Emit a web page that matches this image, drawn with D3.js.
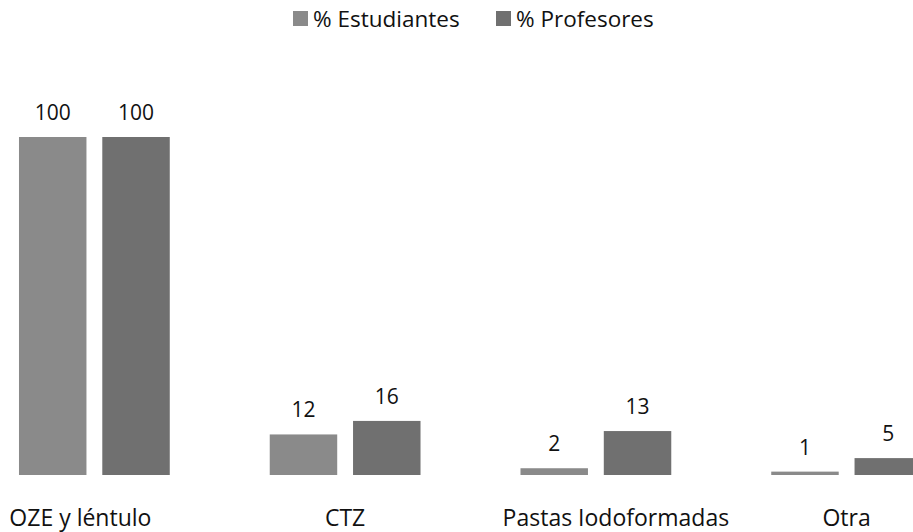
<!DOCTYPE html>
<html>
<head>
<meta charset="utf-8">
<script src="https://cdn.jsdelivr.net/npm/d3@7"></script>
<style>
  body { margin: 0; background: #fff; }
  svg text { font-family: "Open Sans", sans-serif; fill: #111; }
</style>
</head>
<body>
<div id="chart"></div>
<script>
var categories = ["OZE y léntulo", "CTZ", "Pastas Iodoformadas", "Otra"];
var seriesNames = ["% Estudiantes", "% Profesores"];
var estudiantes = [100, 12, 2, 1];
var profesores = [100, 16, 13, 5];
var colors = ["#8a8a8a", "#707070"];

var W = 913, H = 532;
var svg = d3.select("#chart").append("svg").attr("width", W).attr("height", H);

var rows = categories.map(function (c, i) {
	return { cat: c, vals: [estudiantes[i], profesores[i]] };
});

// chart is cropped on both sides, so band range goes past the svg
var x0 = d3.scaleBand().domain(categories).range([-31, 972]).paddingInner(0).paddingOuter(0);
var x1 = d3.scaleBand().domain([0, 1]).range([0, x0.bandwidth()]).paddingInner(0.19).paddingOuter(0.6);
var y = d3.scaleLinear().domain([0, 100]).range([475, 137]);

var g = svg.selectAll("g.grp").data(rows).enter().append("g")
	.attr("class", "grp")
	.attr("transform", function (d) { return "translate(" + x0(d.cat) + ",0)"; });

g.selectAll("rect").data(function (d) { return d.vals; }).enter().append("rect")
	.attr("x", function (v, i) { return x1(i); })
	.attr("y", function (v) { return y(v); })
	.attr("width", x1.bandwidth())
	.attr("height", function (v) { return Math.max(1.5, y(0) - y(v)); })
	.attr("fill", function (v, i) { return colors[i]; });

g.selectAll("text.val").data(function (d) { return d.vals; }).enter().append("text")
	.attr("class", "val")
	.attr("x", function (v, i) { return x1(i) + x1.bandwidth() / 2; })
	.attr("y", function (v) { return y(v) - 17; })
	.attr("text-anchor", "middle")
	.style("font-size", "21px")
	.text(function (v) { return v; });

// category labels, kept inside the picture like excel does
svg.selectAll("text.cat").data(categories).enter().append("text")
	.attr("class", "cat")
	.attr("x", function (c, i) {
		var cx = x0(c) + x0.bandwidth() / 2;
		if (i == 0) cx -= 14;
		if (i == 2) cx += 20;
		return cx;
	})
	.attr("y", 526)
	.attr("text-anchor", "middle")
	.style("font-size", "23px")
	.text(function (c) { return c; });

// legend
var legX = [293, 496];
var leg = svg.selectAll("g.leg").data(seriesNames).enter().append("g")
	.attr("class", "leg")
	.attr("transform", function (d, i) { return "translate(" + legX[i] + ",0)"; });
leg.append("rect").attr("x", 0).attr("y", 11).attr("width", 15).attr("height", 15)
	.attr("fill", function (d, i) { return colors[i]; });
leg.append("text").attr("x", 20).attr("y", 27).style("font-size", "22.5px")
	.text(function (d) { return d; });
</script>
</body>
</html>
